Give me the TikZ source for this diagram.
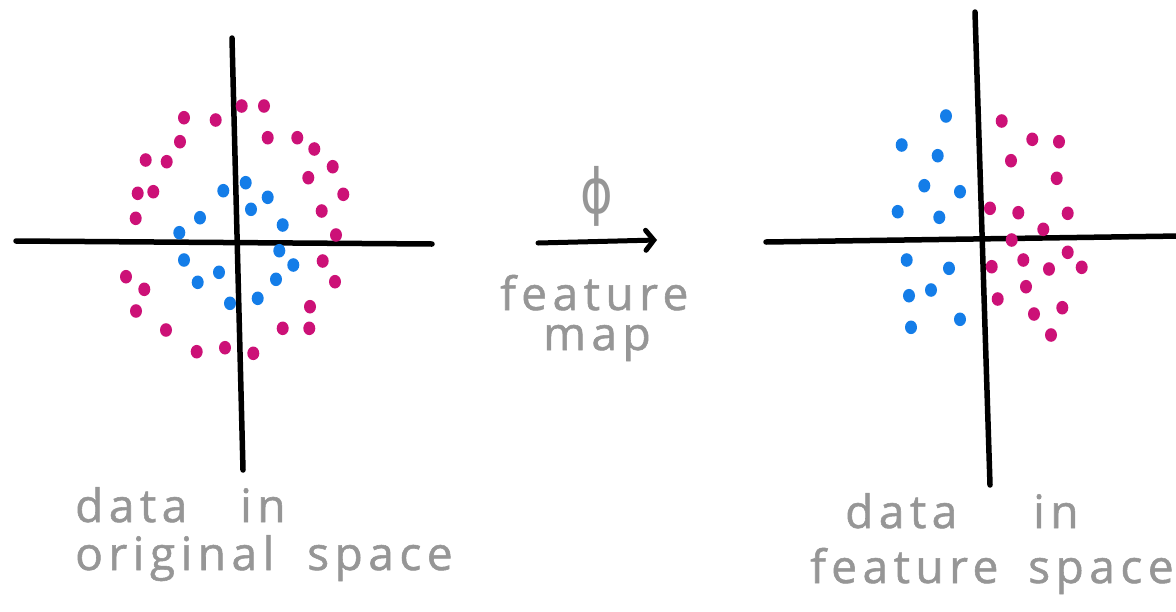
\documentclass[tikz,border=0pt]{standalone}
\usepackage{fontspec}
\setmainfont{Open Sans}
\newfontfamily\phifont{DejaVu Sans}
\usetikzlibrary{arrows.meta}
\definecolor{mag}{RGB}{204,17,119}
\definecolor{blu}{RGB}{20,125,232}
\definecolor{txt}{RGB}{150,150,150}
\begin{document}
\begin{tikzpicture}[x=1pt,y=-1pt,
  axis/.style={line width=5.5pt,line cap=round,black},
  md/.style={fill=mag,draw=none},
  bd/.style={fill=blu,draw=none},
  lab/.style={anchor=base west,inner sep=0pt,text=txt,font=\fontsize{46}{50}\selectfont\addfontfeature{LetterSpace=12,FakeBold=1.2}}]
\useasboundingbox (0,0) rectangle (1176,611);
% left axes
\coordinate (lvt) at (232,38); \coordinate (lvb) at (243,470);
\coordinate (lhl) at (16,241); \coordinate (lhr) at (432,244);
\draw[axis] (lvt) -- (lvb);
\draw[axis] (lhl) -- (lhr);
% right axes
\coordinate (rvt) at (975,12); \coordinate (rvb) at (990,485);
\coordinate (rhl) at (766,242); \coordinate (rhr) at (1180,236);
\draw[axis] (rvt) -- (rvb);
\draw[axis] (rhl) -- (rhr);
% left magenta dots
\foreach \x/\y in {241.7/106,264/106,184/117.7,215.7/120,180/141.7,267.7/137.7,297.3/137.7,314.3/149,145.7/160,166.7/161.7,332.7/166.7,308.3/177.7,137.7/193.3,153.3/191.7,343.3/194.3,135.7/218.3,321.7/211,336/235,322.7/261,126/276.7,144.3/289.3,335/281.7,136/311,310/306.7,166/330,282.7/328.3,309.3/328.3,196.7/351.7,225/347.7,253.3/353.3}
  \fill[md] (\x,\y) ellipse [x radius=6pt,y radius=6.8pt];
% left blue dots
\foreach \x/\y in {245.7/182.7,223.3/190.7,267.7/197.3,251/209.3,200/217.7,179.3/232.7,282.7/225,279.3/250.7,184/260,293.3/265,219/272.3,197.7/282.3,276/279.3,230/303.3,257.7/298.3}
  \fill[bd] (\x,\y) ellipse [x radius=6pt,y radius=6.8pt];
% right blue dots
\foreach \x/\y in {946/116,901.7/145,937.7/155.7,924.3/185.7,960/191.7,897.7/211.7,939.3/217.3,906.7/260,949/268.3,909/295.7,931/290,911/327.3,960/319.3}
  \fill[bd] (\x,\y) ellipse [x radius=6pt,y radius=6.8pt];
% right magenta dots
\foreach \x/\y in {1001.7/121,1032.3/139.3,1059/141.7,1011/160.7,1056.7/178.3,990/208.3,1018.3/212.7,1067.7/213.3,1043.3/229.3,1011.7/240,1067.7/252.3,991.7/266.7,1023.3/260,1049/269,1081.7/267.3,1026/286.7,997.7/299,1034/314,1062.3/307.7,1051/335}
  \fill[md] (\x,\y) ellipse [x radius=6pt,y radius=6.8pt];
% feature map arrow
\coordinate (as) at (538,243); \coordinate (ae) at (657,240);
\draw[line width=5pt,line cap=round,-{Straight Barb[length=8pt,width=20pt,line cap=round]}] (as) -- (ae);
\node[text=txt,inner sep=0pt,xscale=0.8,font=\phifont\fontsize{62}{62}\selectfont] (phi) at (597,196) {ϕ};
\node[lab,text height=34pt,text depth=0pt] (fm1) at (500,310) {feature};
\node[lab,text height=25pt,text depth=11pt] (fm2) at (543,350) {map};
% labels
\node[lab] (l1) at (75,522) {data};
\node[lab] (l2) at (240,522) {in};
\node[lab] (l3) at (75,570) {original};
\node[lab] (l4) at (307,570) {space};
\node[lab] (r1) at (845,528) {data};
\node[lab] (r2) at (1033,528) {in};
\node[lab] (r3) at (810,583) {feature};
\node[lab] (r4) at (1028,583) {space};
\end{tikzpicture}
\end{document}
